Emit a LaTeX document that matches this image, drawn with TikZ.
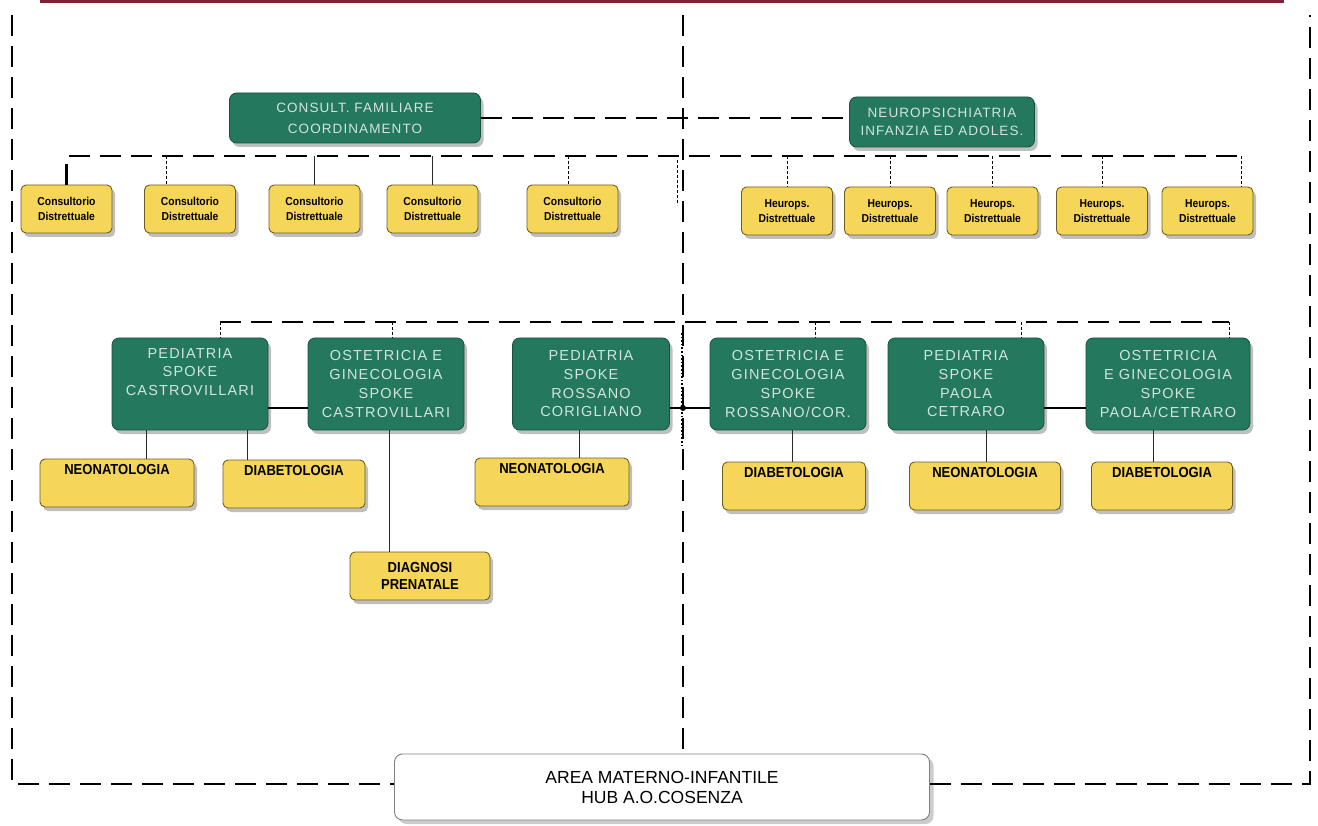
\documentclass[tikz,border=0pt]{standalone}
\usepackage{fontspec}
\setmainfont{Liberation Sans}
\newfontfamily\greenfont[LetterSpace=8]{Liberation Sans}
\newfontfamily\narrowfont[FakeStretch=0.9]{Liberation Sans}
\usepackage{xcolor}
\definecolor{spokegreen}{HTML}{23785E}
\definecolor{spokeedge}{HTML}{17513F}
\definecolor{spoketext}{HTML}{D3E4DA}
\definecolor{unityellow}{HTML}{F6D659}
\definecolor{unitedge}{HTML}{6E5D1E}
\definecolor{barmaroon}{HTML}{7E2237}
\definecolor{linegray}{HTML}{2A2A2A}
\usetikzlibrary{arrows.meta, positioning, shadows, calc}

\begin{document}
\begin{tikzpicture}[x=1pt, y=-1pt,
  greenbox/.style={draw=spokeedge, line width=0.8pt, fill=spokegreen, rounded corners=7pt,
    text=spoketext, align=center, inner sep=0pt,
    font=\greenfont\fontsize{14.5}{18.7}\selectfont,
    drop shadow={shadow xshift=3pt, shadow yshift=-4pt, opacity=0.5}},
  yellowbox/.style={draw=unitedge, line width=0.9pt, fill=unityellow, rounded corners=5pt,
    text=black, align=center, inner sep=0pt,
    font=\narrowfont\fontsize{14.5}{17}\selectfont\bfseries,
    drop shadow={shadow xshift=3pt, shadow yshift=-4pt, opacity=0.5}},
  smallunit/.style={yellowbox, minimum width=91, minimum height=48,
    font=\narrowfont\fontsize{11.5}{15}\selectfont\bfseries},
  hubbox/.style={draw=black!50, line width=0.9pt, fill=white, rounded corners=8pt,
    align=center, inner sep=0pt, font=\fontsize{17.5}{20}\selectfont,
    drop shadow={shadow xshift=4pt, shadow yshift=-4pt, opacity=0.4}},
  toplabel/.style={text height=10pt, text depth=28pt},
  mainline/.style={line width=2.6pt, dash pattern=on 21pt off 10pt},
  thindrop/.style={line width=0.8pt, densely dashed},
  solidlink/.style={line width=1pt, draw=linegray},
  boldlink/.style={line width=2.6pt}]
  \useasboundingbox (0,0) rectangle (1318,826);

  % --- Frame ---
  \fill[barmaroon] (40,0) rectangle (1284,3);
  \coordinate (tl) at (12,15);
  \coordinate (bl) at (12,784);
  \coordinate (tr) at (1310,15);
  \coordinate (br) at (1310,784);
  \coordinate (ctop) at (683,15);

  \node[hubbox, minimum width=535, minimum height=66] (hub) at (662,787)
    {AREA MATERNO-INFANTILE\\HUB A.O.COSENZA};

  \draw[mainline] (tl) -- (bl) -- (bl -| hub.west);
  \draw[mainline] (hub.east |- br) -- (br) -- (tr);
  \draw[mainline] (ctop) -- (ctop |- hub.north);

  % --- Coordination ---
  \node[greenbox, minimum width=251, minimum height=50,
    font=\greenfont\fontsize{13.5}{21}\selectfont] (consult) at (355,118)
    {CONSULT. FAMILIARE\\COORDINAMENTO};
  \node[greenbox, minimum width=185, minimum height=50,
    font=\greenfont\fontsize{13.5}{18}\selectfont] (neuro) at (942,122)
    {NEUROPSICHIATRIA\\INFANZIA ED ADOLES.};
  \draw[mainline] (consult.east) -- (consult.east -| neuro.west);

  % --- District units ---
  \foreach \name/\x in {cd1/66.5, cd2/190, cd3/314.5, cd4/432.5, cd5/572.5}
    \node[smallunit] (\name) at (\x,209) {Consultorio\\Distrettuale};
  \foreach \name/\x in {nd1/787, nd2/890, nd3/992.5, nd4/1102, nd5/1207.5}
    \node[smallunit] (\name) at (\x,211) {Heurops.\\Distrettuale};

  \coordinate (busL) at (66.5,156);
  \coordinate (busR) at (1241,156);
  \draw[mainline] (cd1.north) -- (busL) -- (busR);
  \draw[thindrop] ([xshift=-24pt]cd2.north |- busL) -- ([xshift=-24pt]cd2.north);
  \draw[solidlink] (cd3.north |- busL) -- (cd3.north);
  \draw[solidlink] (cd4.north |- busL) -- (cd4.north);
  \draw[thindrop] ([xshift=-4pt]cd5.north |- busL) -- ([xshift=-4pt]cd5.north);
  \foreach \name in {nd1, nd2, nd3, nd4}
    \draw[thindrop] (\name.north |- busL) -- (\name.north);
  \draw[thindrop] (busR) -- (busR |- nd5.north);
  \draw[thindrop] (677,160) -- (677,205);

  % --- Spoke departments ---
  \node[greenbox, minimum width=156, minimum height=92] (pedcas) at (190,384)
    {PEDIATRIA\\SPOKE\\CASTROVILLARI\\ \strut};
  \node[greenbox, minimum width=156, minimum height=92] (ostcas) at (386,384)
    {OSTETRICIA E\\GINECOLOGIA\\SPOKE\\CASTROVILLARI};
  \node[greenbox, minimum width=157, minimum height=92] (pedros) at (591,384)
    {PEDIATRIA\\SPOKE\\ROSSANO\\CORIGLIANO};
  \node[greenbox, minimum width=156, minimum height=92] (ostros) at (788,384)
    {OSTETRICIA E\\GINECOLOGIA\\SPOKE\\ROSSANO/COR.};
  \node[greenbox, minimum width=156, minimum height=92] (pedpao) at (966,384)
    {PEDIATRIA\\SPOKE\\PAOLA\\CETRARO};
  \node[greenbox, minimum width=164, minimum height=92] (ostpao) at (1168,384)
    {OSTETRICIA\\E GINECOLOGIA\\SPOKE\\PAOLA/CETRARO};

  \coordinate (spokeL) at (220,322);
  \coordinate (spokeR) at (1229,322);
  \draw[mainline] (spokeL) -- (spokeR);
  \draw[thindrop] (spokeL) -- (spokeL |- pedcas.north);
  \draw[thindrop] ([xshift=6pt]ostcas.north |- spokeL) -- ([xshift=6pt]ostcas.north);
  \draw[thindrop] ([xshift=27pt]ostros.north |- spokeL) -- ([xshift=27pt]ostros.north);
  \draw[thindrop] ([xshift=55pt]pedpao.north |- spokeL) -- ([xshift=55pt]pedpao.north);
  \draw[thindrop] (spokeR) -- (spokeR |- ostpao.north);
  \draw[line width=1.6pt, dotted] (682,333) -- (682,445);

  \draw[boldlink] ([yshift=-24pt]pedcas.east) -- ([yshift=-24pt]pedcas.east -| ostcas.west);
  \draw[boldlink] ([yshift=-24pt]pedros.east) -- ([yshift=-24pt]pedros.east -| ostros.west);
  \fill (683,408) circle (3);
  \draw[boldlink] ([yshift=-24pt]pedpao.east) -- ([yshift=-24pt]pedpao.east -| ostpao.west);

  % --- Services ---
  \node[yellowbox, toplabel, minimum width=154, minimum height=48] (neo1) at (117,483) {NEONATOLOGIA};
  \node[yellowbox, toplabel, minimum width=142, minimum height=48] (dia1) at (294,484) {DIABETOLOGIA};
  \node[yellowbox, minimum width=140, minimum height=48] (diag) at (420,576) {DIAGNOSI\\PRENATALE};
  \node[yellowbox, toplabel, minimum width=154, minimum height=48] (neo2) at (552,482) {NEONATOLOGIA};
  \node[yellowbox, toplabel, minimum width=143, minimum height=48] (dia2) at (794,486) {DIABETOLOGIA};
  \node[yellowbox, toplabel, minimum width=151, minimum height=48] (neo3) at (985,486) {NEONATOLOGIA};
  \node[yellowbox, toplabel, minimum width=141, minimum height=48] (dia3) at (1162,486) {DIABETOLOGIA};

  \draw[solidlink] ([xshift=-44pt]pedcas.south) -- ([xshift=-44pt]pedcas.south |- neo1.north);
  \draw[solidlink] ([xshift=57pt]pedcas.south) -- ([xshift=57pt]pedcas.south |- dia1.north);
  \draw[solidlink] ([xshift=3pt]ostcas.south) -- ([xshift=3pt]ostcas.south |- diag.north);
  \draw[solidlink] ([xshift=-12pt]pedros.south) -- ([xshift=-12pt]pedros.south |- neo2.north);
  \draw[solidlink] ([xshift=4pt]ostros.south) -- ([xshift=4pt]ostros.south |- dia2.north);
  \draw[solidlink] ([xshift=20pt]pedpao.south) -- ([xshift=20pt]pedpao.south |- neo3.north);
  \draw[solidlink] ([xshift=-15pt]ostpao.south) -- ([xshift=-15pt]ostpao.south |- dia3.north);
\end{tikzpicture}
\end{document}
